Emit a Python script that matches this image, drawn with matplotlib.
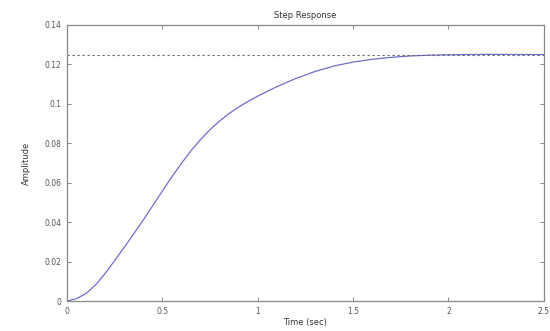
import matplotlib
matplotlib.use("Agg")
import matplotlib.pyplot as plt

# Step response data
t = [0, 0.05, 0.1, 0.15, 0.2, 0.25, 0.3, 0.35, 0.4, 0.45, 0.5, 0.55, 0.6,
     0.65, 0.7, 0.75, 0.8, 0.85, 0.9, 0.95, 1.0, 1.1, 1.2, 1.3, 1.4, 1.5,
     1.6, 1.7, 1.8, 1.9, 2.0, 2.2, 2.5]
y = [0, 0.0012, 0.0038, 0.0082, 0.0140, 0.0205, 0.0272, 0.0341, 0.0411,
     0.0484, 0.0558, 0.0630, 0.0698, 0.0762, 0.0819, 0.0869, 0.0913, 0.0951,
     0.0984, 0.1013, 0.1039, 0.1087, 0.1129, 0.1164, 0.1192, 0.1212, 0.1226,
     0.1236, 0.1243, 0.1247, 0.1249, 0.1251, 0.1250]
final_value = 0.125

xticks = [0, 0.5, 1, 1.5, 2, 2.5]
xticklabels = ["0", "0.5", "1", "1.5", "2", "2.5"]
yticks = [0, 0.02, 0.04, 0.06, 0.08, 0.1, 0.12, 0.14]
yticklabels = ["0", "0.02", "0.04", "0.06", "0.08", "0.1", "0.12", "0.14"]

plt.rcParams['font.family'] = ['DejaVu Sans']
fig = plt.figure(figsize=(5.5, 3.31), dpi=100)
ax = fig.add_axes([0.1218, 0.0906, 0.867, 0.8339])

grey = "#888888"
ax.plot(t, y, color="#6e6ecc", lw=0.9)
ax.axhline(final_value, color="#666666", lw=0.8, ls=(0, (2, 2.5)))

ax.set_xlim(0, 2.5)
ax.set_ylim(0, 0.14)
ax.set_xticks(xticks)
ax.set_xticklabels(xticklabels)
ax.set_yticks(yticks)
ax.set_yticklabels(yticklabels)
ax.tick_params(direction="in", top=True, right=True, length=3, width=0.7,
               color=grey, labelcolor="#555555", labelsize=5.5, pad=4)
for s in ax.spines.values():
    s.set_color(grey)
    s.set_linewidth(0.9)

ax.set_title("Step Response", fontsize=6, color="#333333", pad=5)
ax.set_xlabel("Time (sec)", fontsize=6, color="#333333", labelpad=2)
ax.set_ylabel("Amplitude", fontsize=6, color="#333333", labelpad=10)

fig.savefig("out.png", dpi=100)
